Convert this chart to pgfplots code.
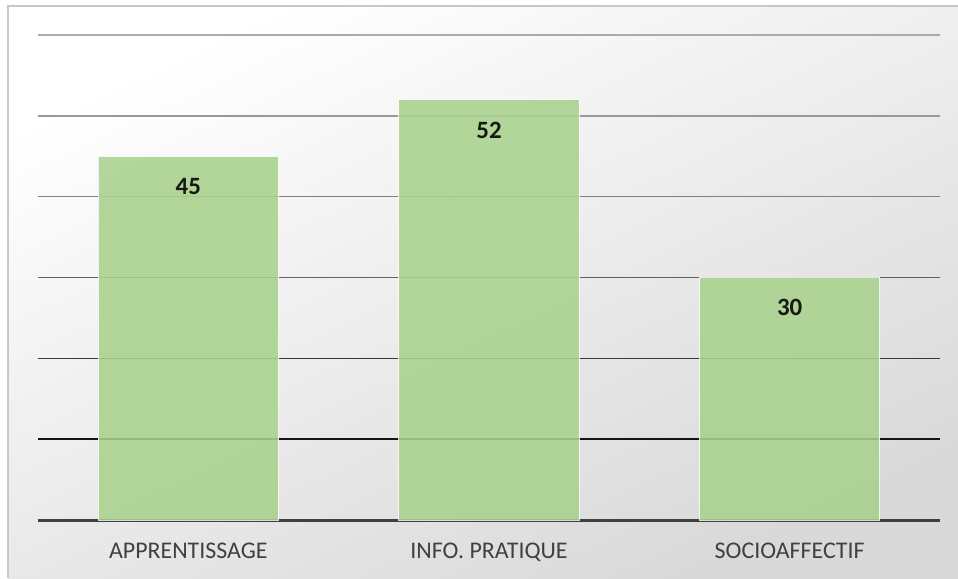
\documentclass[border=0pt]{standalone}
\usepackage{pgfplots}
\pgfplotsset{compat=1.18}
\usepackage{fontspec}
\setmainfont{Carlito}
\definecolor{barfill}{RGB}{169,209,142}
\definecolor{txtgray}{RGB}{64,64,64}
\begin{document}
\begin{tikzpicture}[x=1bp,y=1bp]
\useasboundingbox (0,0) rectangle (479,289);
% background
\shade[shading=axis, top color=white, bottom color=black!15, shading angle=25] (4,0) rectangle (479,286);
\draw[black!22, line width=1bp] (4,0) -- (4,286) -- (479,286);
\begin{axis}[
  at={(19bp,29bp)}, anchor=south west,
  scale only axis,
  width=451bp, height=242.5bp,
  xmin=-0.5, xmax=2.5, ymin=0, ymax=60,
  axis y line=none,
  axis x line*=bottom,
  x axis line style={draw=txtgray, line width=1.5bp, -},
  xtick={0,1,2},
  xticklabels={APPRENTISSAGE, INFO. PRATIQUE, SOCIOAFFECTIF},
  xtick style={draw=none},
  x tick label style={font=\fontsize{12}{14}\selectfont, text=txtgray, yshift=-3.5bp},
  ytick=\empty,
  ybar, bar width=0.6,
  /pgf/number format/assume math mode=true,
  nodes near coords,
  nodes near coords style={font=\fontsize{12.5}{14}\selectfont\bfseries, text=black, anchor=north, yshift=-7.5bp},
  clip=false,
]
\draw[black!33, line width=0.75bp] (axis cs:-0.5,60) -- (axis cs:2.5,60);
\draw[black!40, line width=0.75bp] (axis cs:-0.5,50) -- (axis cs:2.5,50);
\draw[black!50, line width=0.75bp] (axis cs:-0.5,40) -- (axis cs:2.5,40);
\draw[black!62, line width=0.75bp] (axis cs:-0.5,30) -- (axis cs:2.5,30);
\draw[black!78, line width=0.75bp] (axis cs:-0.5,20) -- (axis cs:2.5,20);
\draw[black!92, line width=0.75bp] (axis cs:-0.5,10) -- (axis cs:2.5,10);
\addplot[fill=barfill, fill opacity=0.88, draw=white, draw opacity=0.8, line width=0.5bp] coordinates {(0,45) (1,52) (2,30)};
\end{axis}
\end{tikzpicture}
\end{document}
